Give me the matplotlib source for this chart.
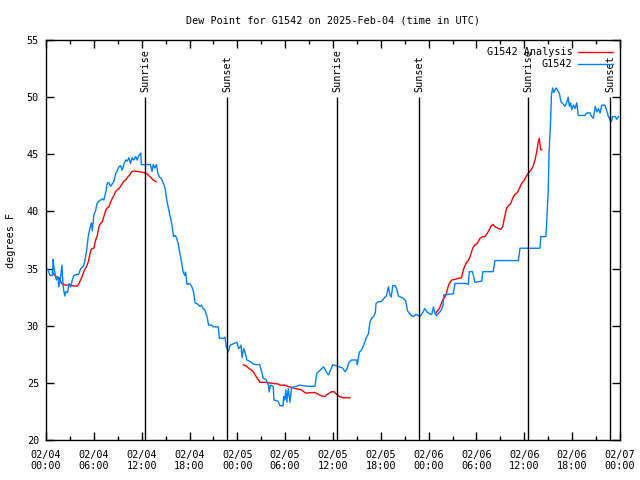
import numpy as np
import matplotlib
matplotlib.use("Agg")
import matplotlib.pyplot as plt

# ---- data (hours since 2025-02-04 00:00 UTC, dew point in F) ----
blue_hours = [0.0, 0.25, 0.5, 0.8, 0.9, 1.0, 1.1, 1.3, 1.5, 1.6, 1.8, 2.0, 2.1, 2.2, 2.35, 2.5, 2.7, 2.9,
              3.1, 3.3, 3.5, 3.9, 4.1, 4.35, 4.7, 4.85, 5.1, 5.3, 5.5, 5.7, 5.8, 6.0, 6.2, 6.4, 6.65, 6.85,
              7.05, 7.25, 7.5, 7.7, 7.9, 8.1, 8.3, 8.5, 8.75, 8.95, 9.15, 9.35, 9.55, 9.8, 10.0, 10.2, 10.4,
              10.6, 10.8, 11.0, 11.25, 11.45, 11.65, 11.9, 11.95, 13.1, 13.3, 13.45, 13.65, 13.85, 14.05,
              14.25, 14.45, 14.65, 14.95, 15.15, 15.35, 15.6, 15.8, 16.0, 16.2, 16.4, 16.6, 16.8, 17.0,
              17.2, 17.4, 17.5, 17.7, 18.0, 18.3, 18.5, 18.7, 19.0, 19.3, 19.5, 19.7, 19.9, 20.2, 20.4,
              20.8, 21.0, 21.6, 21.75, 22.25, 22.45, 22.6, 22.85, 23.1, 23.45, 23.95, 24.15, 24.3, 24.45,
              24.6, 24.8, 25.0, 25.2, 25.5, 25.9, 26.2, 26.8, 27.05, 27.25, 27.6, 27.9, 28.0, 28.15, 28.5,
              28.6, 29.1, 29.35, 29.75, 29.8, 29.95, 30.1, 30.2, 30.4, 30.6, 30.8, 31.4, 31.8, 32.8, 33.74,
              33.96, 34.4, 34.8, 35.0, 35.2, 35.45, 35.6, 36.0, 36.3, 36.8, 37.2, 37.5, 37.75, 38.0, 38.3,
              38.5, 38.97, 39.05, 39.3, 39.5, 39.8, 40.0, 40.2, 40.45, 40.64, 40.85, 41.1, 41.3, 41.4, 41.7,
              42.0, 42.3, 42.5, 42.7, 42.85, 42.95, 43.15, 43.3, 43.5, 43.8, 44.0, 44.2, 44.5, 44.8, 45.1,
              45.35, 45.8, 46.1, 46.4, 46.9, 47.3, 47.5, 47.8, 48.2, 48.4, 48.6, 48.8, 49.0, 49.4, 49.6,
              49.8, 49.9, 51.1, 51.3, 52.7, 52.97, 53.1, 53.5, 53.8, 54.65, 54.8, 56.1, 56.3, 59.25, 59.46,
              61.97, 62.05, 62.7, 62.8, 63.0, 63.1, 63.3, 63.4, 63.55, 63.7, 63.97, 64.1, 64.4, 64.6, 64.8,
              65.1, 65.3, 65.5, 65.65, 65.8, 65.95, 66.15, 66.36, 66.57, 66.77, 67.6, 67.8, 68.2, 68.45,
              68.65, 68.9, 69.1, 69.3, 69.5, 69.7, 70.1, 70.3, 70.5, 70.75, 70.95, 71.05, 71.4, 71.6, 71.8]
blue_values = [35.0, 34.9, 34.4, 34.4, 35.8, 35.0, 34.7, 34.0, 34.3, 33.4, 34.0, 35.3, 34.0, 33.2, 32.6, 33.0,
               32.9, 33.7, 33.4, 34.0, 34.4, 34.5, 34.5, 35.0, 35.2, 35.6, 36.6, 37.8, 38.5, 39.0, 38.3,
               39.7, 40.0, 40.7, 40.9, 41.0, 41.1, 41.0, 41.7, 42.5, 42.5, 42.2, 42.4, 42.6, 43.3, 43.6,
               43.9, 44.0, 43.6, 44.2, 44.5, 44.4, 44.7, 44.2, 44.7, 44.5, 44.8, 44.5, 44.9, 45.1, 44.1,
               44.1, 43.5, 44.1, 43.8, 44.1, 43.3, 43.0, 42.9, 42.6, 42.0, 41.0, 40.3, 39.5, 38.8, 37.8,
               37.9, 37.65, 37.1, 36.3, 35.6, 34.7, 34.4, 34.7, 33.6, 33.7, 33.4, 33.0, 32.0, 31.9, 31.7,
               31.8, 31.5, 31.4, 30.8, 30.05, 30.05, 29.9, 29.9, 28.9, 28.9, 29.0, 28.2, 27.7, 28.3, 28.4,
               28.55, 28.0, 28.1, 28.3, 27.2, 28.0, 27.6, 27.0, 26.9, 26.7, 26.6, 26.6, 26.0, 25.4, 25.3,
               24.8, 24.2, 24.8, 24.7, 23.5, 23.4, 23.0, 23.0, 23.8, 23.5, 24.4, 23.3, 24.5, 23.3, 24.6,
               24.7, 24.8, 24.7, 24.7, 25.85, 26.1, 26.4, 26.2, 25.9, 25.7, 26.0, 26.6, 26.5, 26.4, 26.3,
               25.98, 26.2, 26.8, 27.0, 27.0, 27.0, 26.6, 27.7, 27.8, 28.2, 28.6, 29.0, 29.3, 30.35, 30.65,
               30.8, 31.1, 31.95, 32.1, 32.1, 32.3, 32.5, 32.6, 33.1, 33.4, 32.7, 32.5, 33.5, 33.5, 33.2,
               32.6, 32.5, 32.4, 32.2, 31.3, 30.9, 30.8, 31.0, 30.8, 31.2, 31.5, 31.2, 31.0, 31.0, 31.65,
               31.05, 30.9, 31.2, 31.4, 31.8, 32.7, 32.8, 33.7, 33.7, 33.6, 34.73, 34.73, 33.8, 33.9, 34.73,
               34.73, 35.7, 35.7, 36.78, 36.78, 37.8, 37.8, 38.96, 41.9, 45.1, 48.0, 50.2, 50.8, 50.4, 50.8,
               50.7, 50.3, 49.6, 49.46, 49.2, 49.5, 50.0, 49.2, 49.5, 48.9, 49.3, 49.0, 49.5, 48.4, 48.4,
               48.6, 48.65, 48.3, 48.15, 49.2, 48.7, 49.0, 48.6, 49.3, 49.3, 48.9, 48.4, 48.0, 47.9, 48.3,
               48.3, 48.06, 48.3]

red_hours_1 = [0.79, 1.22, 1.63, 1.84, 2.04, 2.47, 3.0, 3.51, 3.93, 4.14, 4.43, 4.68, 4.85, 5.1, 5.31, 5.52,
               5.68, 6.02, 6.23, 6.44, 6.65, 6.86, 7.06, 7.28, 7.49, 7.69, 7.9, 8.12, 8.32, 8.53, 8.74,
               8.94, 9.16, 9.45, 9.7, 10.0, 10.29, 10.5, 10.75, 11.04, 11.45, 11.88, 12.29, 12.63, 13.05,
               13.46, 13.8]
red_values_1 = [34.7, 34.3, 34.2, 33.85, 33.65, 33.56, 33.56, 33.47, 33.47, 33.7, 34.15, 34.6, 34.9, 35.2,
                35.6, 36.3, 36.7, 36.8, 37.5, 37.9, 38.7, 38.96, 39.1, 39.6, 40.1, 40.3, 40.4, 40.85, 41.15,
                41.4, 41.73, 41.9, 42.0, 42.3, 42.6, 42.75, 43.04, 43.2, 43.48, 43.54, 43.5, 43.45, 43.4,
                43.3, 43.04, 42.75, 42.6]
red_hours_2 = [24.75, 25.09, 25.38, 25.8, 26.0, 26.22, 26.5, 26.84, 27.47, 27.89, 28.5, 29.14, 29.35, 29.98,
               30.4, 30.82, 31.23, 31.65, 32.07, 32.49, 32.7, 33.33, 33.74, 34.16, 34.58, 35.0, 35.2, 35.54,
               35.84, 36.13, 36.47, 36.8, 37.3, 38.13]
red_values_2 = [26.57, 26.5, 26.3, 26.1, 25.98, 25.7, 25.4, 25.05, 25.05, 25.0, 24.95, 24.9, 24.8, 24.8,
                24.67, 24.6, 24.5, 24.45, 24.37, 24.14, 24.1, 24.15, 24.15, 24.0, 23.85, 23.8, 23.95, 24.1,
                24.23, 24.23, 24.0, 23.8, 23.7, 23.7]
red_hours_3 = [48.92, 49.08, 49.33, 49.51, 49.76, 49.92, 50.18, 50.39, 50.59, 50.89, 51.3, 51.72, 52.14,
               52.35, 52.68, 52.97, 53.19, 53.52, 53.81, 54.1, 54.44, 54.78, 55.07, 55.36, 55.61, 55.78,
               56.03, 56.32, 56.74, 57.04, 57.29, 57.49, 57.79, 57.99, 58.29, 58.54, 58.83, 59.12, 59.37,
               59.67, 59.96, 60.21, 60.5, 60.71, 61.05, 61.21, 61.34, 61.55, 61.75, 61.88, 61.96, 62.05,
               62.18]
red_values_3 = [31.1, 31.3, 31.5, 31.8, 32.25, 32.4, 32.7, 33.3, 33.7, 34.0, 34.05, 34.15, 34.2, 34.9, 35.46,
                35.7, 36.04, 36.78, 37.07, 37.2, 37.65, 37.8, 37.8, 38.1, 38.4, 38.67, 38.87, 38.67, 38.5,
                38.44, 38.67, 39.4, 40.3, 40.5, 40.7, 41.15, 41.5, 41.64, 42.0, 42.46, 42.7, 43.04, 43.34,
                43.5, 43.86, 44.2, 44.5, 45.2, 46.1, 46.4, 45.9, 45.4, 45.4]

sun_hours = [12.42, 22.70, 36.50, 46.79, 60.46, 70.75]
sun_labels = ["Sunrise", "Sunset", "Sunrise", "Sunset", "Sunrise", "Sunset"]

xtick_hours = list(range(0, 73, 6))
xtick_labels = ["02/04\n00:00", "02/04\n06:00", "02/04\n12:00", "02/04\n18:00",
                "02/05\n00:00", "02/05\n06:00", "02/05\n12:00", "02/05\n18:00",
                "02/06\n00:00", "02/06\n06:00", "02/06\n12:00", "02/06\n18:00",
                "02/07\n00:00"]
ytick_values = [20, 25, 30, 35, 40, 45, 50, 55]

title = "Dew Point for G1542 on 2025-Feb-04 (time in UTC)"
ylabel = "degrees F"
red_name = "G1542 Analysis"
blue_name = "G1542"

# ---- plotting ----
FONT = "DejaVu Sans Mono"
FS = 7.3
plt.rcParams['font.family'] = [FONT]
plt.rcParams['font.size'] = FS

fig = plt.figure(figsize=(6.4, 4.8), dpi=100)
ax = fig.add_axes([46/640, 40/480, 574/640, 400/480])

RED = "#ff0000"
BLUE = "#0080ff"

ax.plot(red_hours_1, red_values_1, color=RED, lw=1.0, label=red_name)
ax.plot(red_hours_2, red_values_2, color=RED, lw=1.0)
ax.plot(red_hours_3, red_values_3, color=RED, lw=1.0)
ax.plot(blue_hours, blue_values, color=BLUE, lw=1.0, label=blue_name)

for h, lab in zip(sun_hours, sun_labels):
    ax.vlines(h, 20, 50, color="black", lw=1.0)
    ax.text(h, 50.45, lab, rotation=90, ha="center", va="bottom", fontsize=FS)

ax.set_xlim(0, 72)
ax.set_ylim(20, 55)
ax.set_xticks(xtick_hours)
ax.set_xticklabels(xtick_labels)
ax.set_xticks(list(range(3, 72, 6)), minor=True)
ax.set_yticks(ytick_values)
ax.tick_params(axis="x", which="major", direction="in", length=6, width=1,
               top=True, labelsize=FS, pad=7)
ax.tick_params(axis="y", which="major", direction="in", length=6, width=1,
               right=True, labelsize=FS, pad=5)
ax.tick_params(axis="both", which="minor", direction="in", length=3, width=1,
               top=True, right=True)
for sp in ax.spines.values():
    sp.set_linewidth(1.0)

ax.set_title(title, fontsize=FS, pad=12)
ax.set_ylabel(ylabel, fontsize=FS, labelpad=8)

leg = ax.legend(loc="upper right", frameon=False, markerfirst=False, fontsize=FS,
                handlelength=3.4, handletextpad=0.6, borderaxespad=0.3, labelspacing=0.2)

fig.savefig("out.png", dpi=100)
